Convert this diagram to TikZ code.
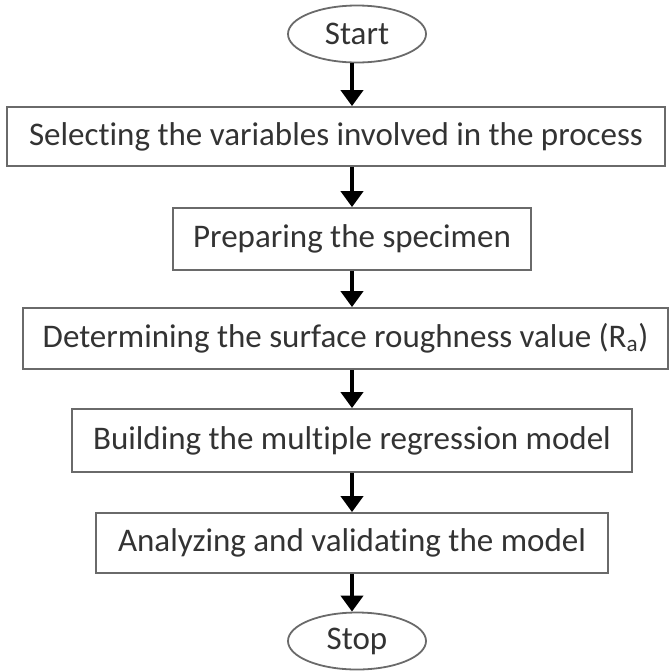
\documentclass[tikz,border=0pt]{standalone}
\usepackage{fontspec}
\setmainfont[Ligatures=NoCommon]{Carlito}
\usetikzlibrary{arrows.meta,shapes.geometric}
\definecolor{boxgray}{HTML}{6A6A6A}
\definecolor{textgray}{HTML}{333333}
\newcommand{\Flowtext}{\fontsize{33}{38}\selectfont}

\begin{document}
\begin{tikzpicture}[
                    x=1pt, y=-1pt,
                    >={Triangle[width=22pt,length=16pt]},
                    stepbox/.style={draw=boxgray, line width=1.8pt, inner sep=0pt,
                                    text=textgray, font=\Flowtext},
                    term/.style={stepbox, ellipse, minimum width=138pt, minimum height=57pt},
                    flow/.style={->, line width=4pt, black}]

                \useasboundingbox (0,0) rectangle (671,670);

                \draw(357,34) node[term] (start) {Start};
                \draw(336,136.5) node[stepbox, minimum width=658pt, minimum height=59pt] (select)
                    {Selecting the variables involved in the process};
                \draw(352,239) node[stepbox, minimum width=358pt, minimum height=62pt] (prepare)
                    {Preparing the specimen};
                \draw(345.5,338.5) node[stepbox, minimum width=645pt, minimum height=61pt] (measure)
                    {Determining the surface roughness value (R\textsubscript{a})};
                \draw(352,440.5) node[stepbox, minimum width=560pt, minimum height=63pt] (build)
                    {Building the multiple regression model};
                \draw(352,543) node[stepbox, minimum width=512pt, minimum height=60pt] (analyze)
                    {Analyzing and validating the model};
                \draw(357,641) node[term] (stop) {Stop};

                % arrows down the chain
                \draw[flow] (start.south -| prepare.north) to (select.north -| prepare.north);
                \draw[flow] (select.south -| prepare.north) to (prepare.north);
                \draw[flow] (prepare.south) to (measure.north -| prepare.south);
                \draw[flow] (measure.south -| build.north) to (build.north);
                \draw[flow] (build.south) to (analyze.north);
                \draw[flow] (analyze.south) to (stop.north -| analyze.south);

            \end{tikzpicture}
\end{document}
